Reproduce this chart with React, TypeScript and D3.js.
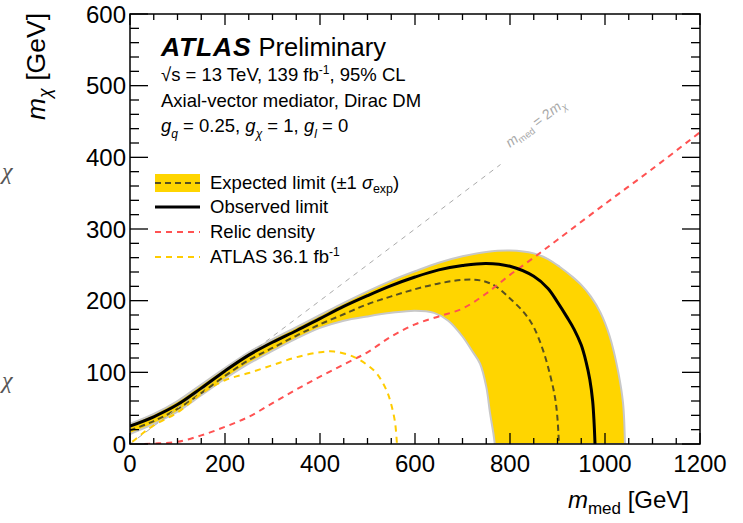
import React, { useEffect, useRef } from 'react';
import * as d3 from 'd3';

type Pt = [number, number];

// [m_med, m_chi] in GeV
const observed: Pt[] = [
  [0, 25], [50, 38], [100, 55], [150, 78], [200, 102], [250, 124], [300, 142], [350, 158],
  [400, 175], [450, 192], [500, 207], [550, 221], [600, 233], [650, 243], [700, 249],
  [750, 252], [800, 248], [850, 234], [880, 217], [900, 198], [920, 177], [935, 160],
  [950, 138], [960, 115], [968, 90], [974, 60], [977, 30], [979, 0],
];
const expected: Pt[] = [
  [0, 19], [50, 32], [100, 49], [150, 71], [200, 95], [250, 117], [300, 134], [350, 151],
  [400, 167], [450, 181], [500, 195], [550, 206], [600, 216], [650, 224], [700, 229],
  [740, 228], [770, 220], [800, 203], [830, 183], [850, 163], [870, 130], [885, 95],
  [895, 64], [900, 35], [903, 0],
];
const bandUpper: Pt[] = [
  [0, 28], [50, 42], [100, 60], [150, 83], [200, 106], [250, 128], [300, 146], [350, 163],
  [400, 180], [450, 197], [500, 213], [550, 228], [600, 241], [650, 253], [700, 262],
  [750, 268], [800, 270], [850, 266], [880, 258], [905, 247], [930, 234], [950, 222],
  [970, 206], [990, 184], [1010, 150], [1028, 100], [1038, 57], [1042, 0],
];
const bandLower: Pt[] = [
  [0, 14], [50, 28], [100, 45], [150, 68], [200, 91], [250, 112], [300, 130], [350, 147],
  [400, 162], [450, 172], [500, 178], [550, 183], [600, 186], [640, 183], [670, 172],
  [700, 150], [720, 130], [737, 112], [750, 80], [758, 43], [765, 15], [768, 0],
];
const relic: Pt[] = [
  [30, 0], [60, 1], [100, 3], [150, 12], [200, 24], [250, 38], [300, 57], [350, 76],
  [400, 94], [450, 111], [500, 128], [550, 150], [600, 167], [650, 178], [700, 189],
  [750, 210], [800, 236], [850, 260], [900, 285], [1000, 335], [1100, 384], [1200, 435],
];
const atlas36: Pt[] = [
  [5, 3], [25, 14], [50, 26], [100, 44], [150, 70], [200, 89], [250, 99], [300, 110],
  [350, 121], [400, 128], [430, 129], [470, 122], [500, 110], [520, 98], [540, 75],
  [550, 55], [558, 30], [562, 0],
];

const xMajor = [0, 200, 400, 600, 800, 1000, 1200];
const yMajor = [0, 100, 200, 300, 400, 500, 600];

const FONT = "'Liberation Sans', Arial, Helvetica, sans-serif";

const App: React.FC = () => {
  const svgRef = useRef<SVGSVGElement>(null);

  useEffect(() => {
    if (!svgRef.current) return;
    const W = 743, H = 523;
    const margin = { top: 14, right: 43, bottom: 79, left: 130 };

    d3.select(svgRef.current).selectAll('*').remove();
    const svg = d3.select(svgRef.current).attr('width', W).attr('height', H);

    const x = d3.scaleLinear().domain([0, 1200]).range([margin.left, W - margin.right]);
    const y = d3.scaleLinear().domain([0, 600]).range([H - margin.bottom, margin.top]);
    const x0 = x(0), x1 = x(1200), y0 = y(0), y1 = y(600);

    svg.append('defs').append('clipPath').attr('id', 'plot')
      .append('rect').attr('x', x0).attr('y', y1).attr('width', x1 - x0).attr('height', y0 - y1);

    const g = svg.append('g').attr('clip-path', 'url(#plot)');
    const line = d3.line<Pt>().x(d => x(d[0])).y(d => y(d[1])).curve(d3.curveCatmullRom);

    // expected +-1 sigma band
    const bandPath = line(bandUpper)! + 'L' + line(bandLower.slice().reverse())!.slice(1) + 'Z';
    g.append('path').attr('d', bandPath).attr('fill', '#ffd500')
      .attr('stroke', '#c8c8c8').attr('stroke-width', 2);

    g.append('path').attr('d', line(expected)).attr('fill', 'none')
      .attr('stroke', '#3a3826').attr('stroke-opacity', 0.85).attr('stroke-width', 2)
      .attr('stroke-dasharray', '6,4');

    // m_med = 2 m_chi
    g.append('line').attr('x1', x(0)).attr('y1', y(0)).attr('x2', x(780)).attr('y2', y(390))
      .attr('stroke', '#aaaaaa').attr('stroke-width', 1).attr('stroke-dasharray', '5,5');

    g.append('path').attr('d', line(relic)).attr('fill', 'none')
      .attr('stroke', '#ff5252').attr('stroke-width', 2).attr('stroke-dasharray', '6,5');

    g.append('path').attr('d', line(atlas36)).attr('fill', 'none')
      .attr('stroke', '#ffcc00').attr('stroke-width', 2).attr('stroke-dasharray', '6,5');

    g.append('path').attr('d', line(observed)).attr('fill', 'none')
      .attr('stroke', '#000').attr('stroke-width', 3);

    // diagonal label
    const ang = -Math.atan((y(0) - y(300)) / (x(600) - x(0))) * 180 / Math.PI;
    const dl = svg.append('text')
      .attr('transform', `translate(${x(800)},${y(413)}) rotate(${ang})`)
      .attr('font-family', FONT).attr('font-size', 14).attr('fill', '#a8a8a8');
    dl.append('tspan').attr('font-style', 'italic').text('m');
    dl.append('tspan').attr('font-size', 9.5).attr('dy', 3).text('med');
    dl.append('tspan').attr('dy', -3).text(' = 2');
    dl.append('tspan').attr('font-style', 'italic').text('m');
    dl.append('tspan').attr('font-size', 9.5).attr('font-style', 'italic').attr('dy', 3).text('χ');

    // frame + ticks
    svg.append('rect').attr('x', x0).attr('y', y1).attr('width', x1 - x0).attr('height', y0 - y1)
      .attr('fill', 'none').attr('stroke', '#000').attr('stroke-width', 1.5);

    const ticks = svg.append('g').attr('stroke', '#000').attr('stroke-width', 1.3);
    d3.range(0, 1201, 50).forEach(v => {
      const len = v % 200 === 0 ? 11 : 6;
      ticks.append('line').attr('x1', x(v)).attr('x2', x(v)).attr('y1', y0).attr('y2', y0 - len);
      ticks.append('line').attr('x1', x(v)).attr('x2', x(v)).attr('y1', y1).attr('y2', y1 + len);
    });
    d3.range(0, 601, 20).forEach(v => {
      const len = v % 100 === 0 ? 18 : 9;
      ticks.append('line').attr('y1', y(v)).attr('y2', y(v)).attr('x1', x0).attr('x2', x0 + len);
      ticks.append('line').attr('y1', y(v)).attr('y2', y(v)).attr('x1', x1).attr('x2', x1 - len);
    });

    svg.append('g').selectAll('text').data(xMajor).enter().append('text')
      .attr('x', d => x(d)).attr('y', y0 + 28).attr('text-anchor', 'middle')
      .attr('font-family', FONT).attr('font-size', 24).text(d => d);
    svg.append('g').selectAll('text').data(yMajor).enter().append('text')
      .attr('x', x0 - 4).attr('y', d => y(d) + 8.5).attr('text-anchor', 'end')
      .attr('font-family', FONT).attr('font-size', 24).text(d => d);

    // axis titles
    const xt = svg.append('text').attr('x', 689).attr('y', 508).attr('text-anchor', 'end')
      .attr('font-family', FONT).attr('font-size', 24);
    xt.append('tspan').attr('font-style', 'italic').text('m');
    xt.append('tspan').attr('font-size', 17).attr('dy', 6).text('med');
    xt.append('tspan').attr('dy', -6).text(' [GeV]');

    const yt = svg.append('text').attr('transform', 'translate(45,13) rotate(-90)')
      .attr('text-anchor', 'end').attr('font-family', FONT).attr('font-size', 26.5);
    yt.append('tspan').attr('font-style', 'italic').text('m');
    yt.append('tspan').attr('font-size', 18).attr('font-style', 'italic').attr('dy', 6).text('χ');
    yt.append('tspan').attr('dy', -6).text(' [GeV]');

    // stray glyphs at the left edge
    [179, 388].forEach(yy => {
      svg.append('text').attr('x', 2).attr('y', yy).attr('font-family', "'Liberation Serif', 'DejaVu Serif', serif")
        .attr('font-style', 'italic').attr('font-size', 24).attr('fill', '#555').text('χ');
    });

    // ATLAS label block
    const t1 = svg.append('text').attr('x', 161).attr('y', 56).attr('font-family', FONT).attr('font-size', 25.5);
    t1.append('tspan').attr('font-weight', 'bold').attr('font-style', 'italic')
      .attr('font-size', 26.5).attr('letter-spacing', 0.8).text('ATLAS');
    t1.append('tspan').text(' Preliminary');

    const SUB = 18.5;
    const t2 = svg.append('text').attr('x', 161).attr('y', 81).attr('font-family', FONT).attr('font-size', SUB);
    t2.append('tspan').text('√s = 13 TeV, 139 fb');
    t2.append('tspan').attr('font-size', 12).attr('dy', -7).text('-1');
    t2.append('tspan').attr('dy', 7).text(', 95% CL');

    svg.append('text').attr('x', 161).attr('y', 107).attr('font-family', FONT).attr('font-size', SUB)
      .text('Axial-vector mediator, Dirac DM');

    const t4 = svg.append('text').attr('x', 161).attr('y', 132).attr('font-family', FONT).attr('font-size', SUB);
    const coup: [string, string][] = [['q', ' = 0.25, '], ['χ', ' = 1, '], ['l', ' = 0']];
    coup.forEach(([sub, rest]) => {
      t4.append('tspan').attr('font-style', 'italic').text('g');
      t4.append('tspan').attr('font-style', 'italic').attr('font-size', 12).attr('dy', 6).text(sub);
      t4.append('tspan').attr('dy', -6).text(rest);
    });

    // legend
    const lx0 = 155, lx1 = 200, tx = 210;
    const rows = [183, 207, 232, 257];
    svg.append('rect').attr('x', lx0).attr('y', rows[0] - 9).attr('width', lx1 - lx0).attr('height', 18)
      .attr('fill', '#ffd500');
    svg.append('line').attr('x1', lx0).attr('x2', lx1).attr('y1', rows[0]).attr('y2', rows[0])
      .attr('stroke', '#3a3826').attr('stroke-opacity', 0.85).attr('stroke-width', 2).attr('stroke-dasharray', '6,4');
    svg.append('line').attr('x1', lx0).attr('x2', lx1).attr('y1', rows[1]).attr('y2', rows[1])
      .attr('stroke', '#000').attr('stroke-width', 3);
    svg.append('line').attr('x1', lx0).attr('x2', lx1).attr('y1', rows[2]).attr('y2', rows[2])
      .attr('stroke', '#ff5252').attr('stroke-width', 2).attr('stroke-dasharray', '6,5');
    svg.append('line').attr('x1', lx0).attr('x2', lx1).attr('y1', rows[3]).attr('y2', rows[3])
      .attr('stroke', '#ffcc00').attr('stroke-width', 2).attr('stroke-dasharray', '6,5');

    const e1 = svg.append('text').attr('x', tx).attr('y', rows[0] + 6).attr('font-family', FONT).attr('font-size', SUB);
    e1.append('tspan').text('Expected limit (±1 ');
    e1.append('tspan').attr('font-style', 'italic').attr('font-size', 18).text('σ');
    e1.append('tspan').attr('font-size', 12.5).attr('dy', 4).text('exp');
    e1.append('tspan').attr('dy', -4).text(')');
    svg.append('text').attr('x', tx).attr('y', rows[1] + 6).attr('font-family', FONT).attr('font-size', SUB)
      .text('Observed limit');
    svg.append('text').attr('x', tx).attr('y', rows[2] + 6).attr('font-family', FONT).attr('font-size', SUB)
      .text('Relic density');
    const e4 = svg.append('text').attr('x', tx).attr('y', rows[3] + 6).attr('font-family', FONT).attr('font-size', SUB);
    e4.append('tspan').text('ATLAS 36.1 fb');
    e4.append('tspan').attr('font-size', 12).attr('dy', -7).text('-1');
  }, []);

  return (
    <div style={{ position: 'absolute', left: 0, top: 0, background: '#fff' }}>
      <svg ref={svgRef} style={{ display: 'block' }} />
    </div>
  );
};

export default App;
